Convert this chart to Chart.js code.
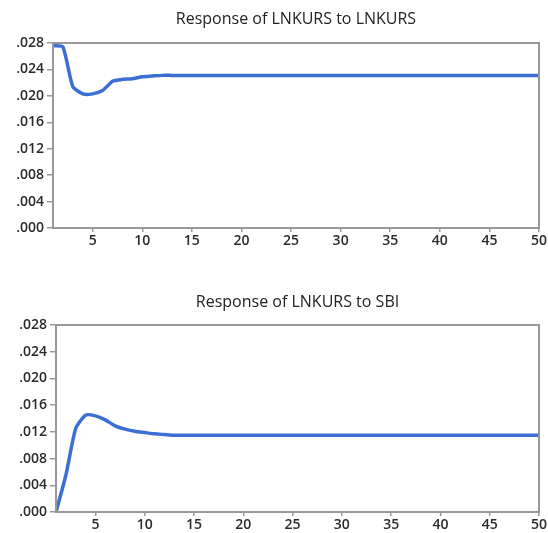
<!DOCTYPE html>
<html>
<head>
<meta charset="utf-8">
<script src="https://cdn.jsdelivr.net/npm/chart.js@4/dist/chart.umd.min.js"></script>
<style>
  html, body { margin: 0; padding: 0; background: #fff; }
  #wrap { position: relative; width: 548px; height: 533px; }
  canvas { position: absolute; left: 0; }
  #c1 { top: 0; }
  #c2 { top: 266px; }
</style>
</head>
<body>
<div id="wrap">
  <canvas id="c1" width="548" height="266"></canvas>
  <canvas id="c2" width="548" height="267"></canvas>
</div>
<script>
// ── Data ──────────────────────────────────────────────────────────
const PERIODS = [
  1, 2, 3, 4, 5, 6, 7, 8, 9, 10, 11, 12, 13, 14, 15, 16, 17, 18, 19, 20,
  21, 22, 23, 24, 25, 26, 27, 28, 29, 30, 31, 32, 33, 34, 35, 36, 37, 38, 39, 40,
  41, 42, 43, 44, 45, 46, 47, 48, 49, 50,
];

const TITLES = ["Response of LNKURS to LNKURS", "Response of LNKURS to SBI"];

// Response of LNKURS to LNKURS
const RESP_KURS = [
  0.0276, 0.0274, 0.0214, 0.0203, 0.0203, 0.0208, 0.0222, 0.0225, 0.0226, 0.0229,
  0.0230, 0.0231, 0.0231, 0.0231, 0.0231, 0.0231, 0.0231, 0.0231, 0.0231, 0.0231,
  0.0231, 0.0231, 0.0231, 0.0231, 0.0231, 0.0231, 0.0231, 0.0231, 0.0231, 0.0231,
  0.0231, 0.0231, 0.0231, 0.0231, 0.0231, 0.0231, 0.0231, 0.0231, 0.0231, 0.0231,
  0.0231, 0.0231, 0.0231, 0.0231, 0.0231, 0.0231, 0.0231, 0.0231, 0.0231, 0.0231,
];

// Response of LNKURS to SBI
const RESP_SBI = [
  0.0000, 0.0055, 0.0125, 0.0145, 0.0144, 0.0138, 0.0129, 0.0124, 0.0121, 0.0119,
  0.0117, 0.0116, 0.0115, 0.0115, 0.0115, 0.0115, 0.0115, 0.0115, 0.0115, 0.0115,
  0.0115, 0.0115, 0.0115, 0.0115, 0.0115, 0.0115, 0.0115, 0.0115, 0.0115, 0.0115,
  0.0115, 0.0115, 0.0115, 0.0115, 0.0115, 0.0115, 0.0115, 0.0115, 0.0115, 0.0115,
  0.0115, 0.0115, 0.0115, 0.0115, 0.0115, 0.0115, 0.0115, 0.0115, 0.0115, 0.0115,
];

const X_TICKS = [5, 10, 15, 20, 25, 30, 35, 40, 45, 50];
const Y_TICKS = [0, 0.004, 0.008, 0.012, 0.016, 0.020, 0.024, 0.028];

// ── Style ─────────────────────────────────────────────────────────
const LINE_COLOR = "#3b6fd3";
const AXIS_COLOR = "#999999";
const TEXT_COLOR = "#2b2b2b";
const FONT = "'Open Sans', 'Noto Sans', sans-serif";

// box around the plot area (top + right lines) and title centred over the plot
const frame = {
  id: "frame",
  afterDraw(chart, args, opts) {
    const { ctx, chartArea: a } = chart;
    ctx.save();
    ctx.strokeStyle = AXIS_COLOR;
    ctx.lineWidth = 2;
    ctx.strokeRect(a.left, a.top, a.right - a.left, a.bottom - a.top);

    ctx.fillStyle = "#222";
    ctx.font = "16px " + FONT;
    ctx.textAlign = "center";
    ctx.textBaseline = "middle";
    ctx.fillText(opts.text, (a.left + a.right) / 2, opts.y);
    ctx.restore();
  },
};

function fmtY(v) {
  return v.toFixed(3).replace(/^0/, "");
}

function makeChart(id, title, values, opts) {
  const points = PERIODS.map((p, i) => ({ x: p, y: values[i] }));
  return new Chart(document.getElementById(id), {
    type: "line",
    data: {
      datasets: [{
        data: points,
        borderColor: LINE_COLOR,
        borderWidth: 3.5,
        pointRadius: 0,
        tension: 0.2,
        fill: false,
      }],
    },
    options: {
      responsive: false,
      animation: false,
      layout: { padding: { left: 0, right: 9, top: opts.top, bottom: 0 } },
      plugins: {
        legend: { display: false },
        tooltip: { enabled: false },
        title: { display: false },
        frame: { text: title, y: opts.titleY },
      },
      scales: {
        x: {
          type: "linear",
          min: 1,
          max: 50,
          afterBuildTicks: (s) => { s.ticks = X_TICKS.map((v) => ({ value: v })); },
          afterFit: (s) => { s.height = opts.xHeight; },
          ticks: {
            color: TEXT_COLOR,
            font: { family: FONT, size: 14, weight: "600" },
            padding: 1,
            maxRotation: 0,
            autoSkip: false,
          },
          grid: { drawOnChartArea: false, tickLength: 4, color: AXIS_COLOR, lineWidth: 1.5 },
          border: { color: AXIS_COLOR, width: 2 },
        },
        y: {
          min: 0,
          max: 0.028,
          afterBuildTicks: (s) => { s.ticks = Y_TICKS.map((v) => ({ value: v })); },
          afterFit: (s) => { s.width = opts.yWidth; },
          ticks: {
            color: TEXT_COLOR,
            font: { family: FONT, size: 14, weight: "600" },
            padding: 3,
            callback: (v) => fmtY(v),
          },
          grid: { drawOnChartArea: false, tickLength: 6, color: AXIS_COLOR, lineWidth: 1.5 },
          border: { color: AXIS_COLOR, width: 2 },
        },
      },
    },
    plugins: [frame],
  });
}

makeChart("c1", TITLES[0], RESP_KURS, {
  top: 43,
  titleY: 19,
  xHeight: 38,
  yWidth: 53,
});

makeChart("c2", TITLES[1], RESP_SBI, {
  top: 59,
  titleY: 36,
  xHeight: 21,
  yWidth: 56,
});
</script>
</body>
</html>
